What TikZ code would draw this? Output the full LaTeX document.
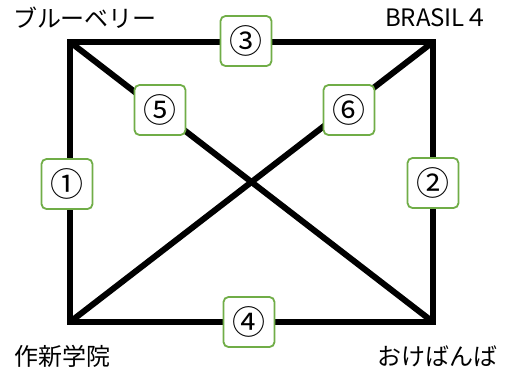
\documentclass[tikz,border=0pt]{standalone}
\usepackage{fontspec}
\setmainfont{Noto Sans CJK JP}
\usepackage{xcolor}
\definecolor{boxgreen}{RGB}{112,173,71}

\begin{document}
\begin{tikzpicture}[x=1pt,y=-1pt,
  edge/.style={line width=6pt,line join=miter},
  numbox/.style={draw=boxgreen,line width=1.8pt,fill=white,rounded corners=5pt,minimum width=51pt,minimum height=50pt,inner sep=0pt,font=\fontsize{33}{33}\selectfont},
  team/.style={inner sep=0pt,font=\fontsize{24}{24}\selectfont}]
  \useasboundingbox (0,0) rectangle (507,373);
  \coordinate (blue) at (70,42);
  \coordinate (brasil) at (433,42);
  \coordinate (sakushin) at (70,322);
  \coordinate (okeb) at (433,322);
  \draw[edge] (blue) -- (brasil) -- (okeb) -- (sakushin) -- cycle;
  \draw[edge] (blue) -- (okeb);
  \draw[edge] (brasil) -- (sakushin);
  \node[team] (tblue) at (85,18) {ブルーベリー};
  \node[team] (tbrasil) at (437,18) {BRASIL４};
  \node[team] (tsaku) at (63,356) {作新学院};
  \node[team] (tokeb) at (437,356) {おけばんば};
  \node[numbox] (m1) at (67,184) {①};
  \node[numbox] (m2) at (433,183) {②};
  \node[numbox] (m3) at (246,41) {③};
  \node[numbox] (m4) at (249,322) {④};
  \node[numbox] (m5) at (160,110) {⑤};
  \node[numbox] (m6) at (349,110) {⑥};
\end{tikzpicture}
\end{document}
